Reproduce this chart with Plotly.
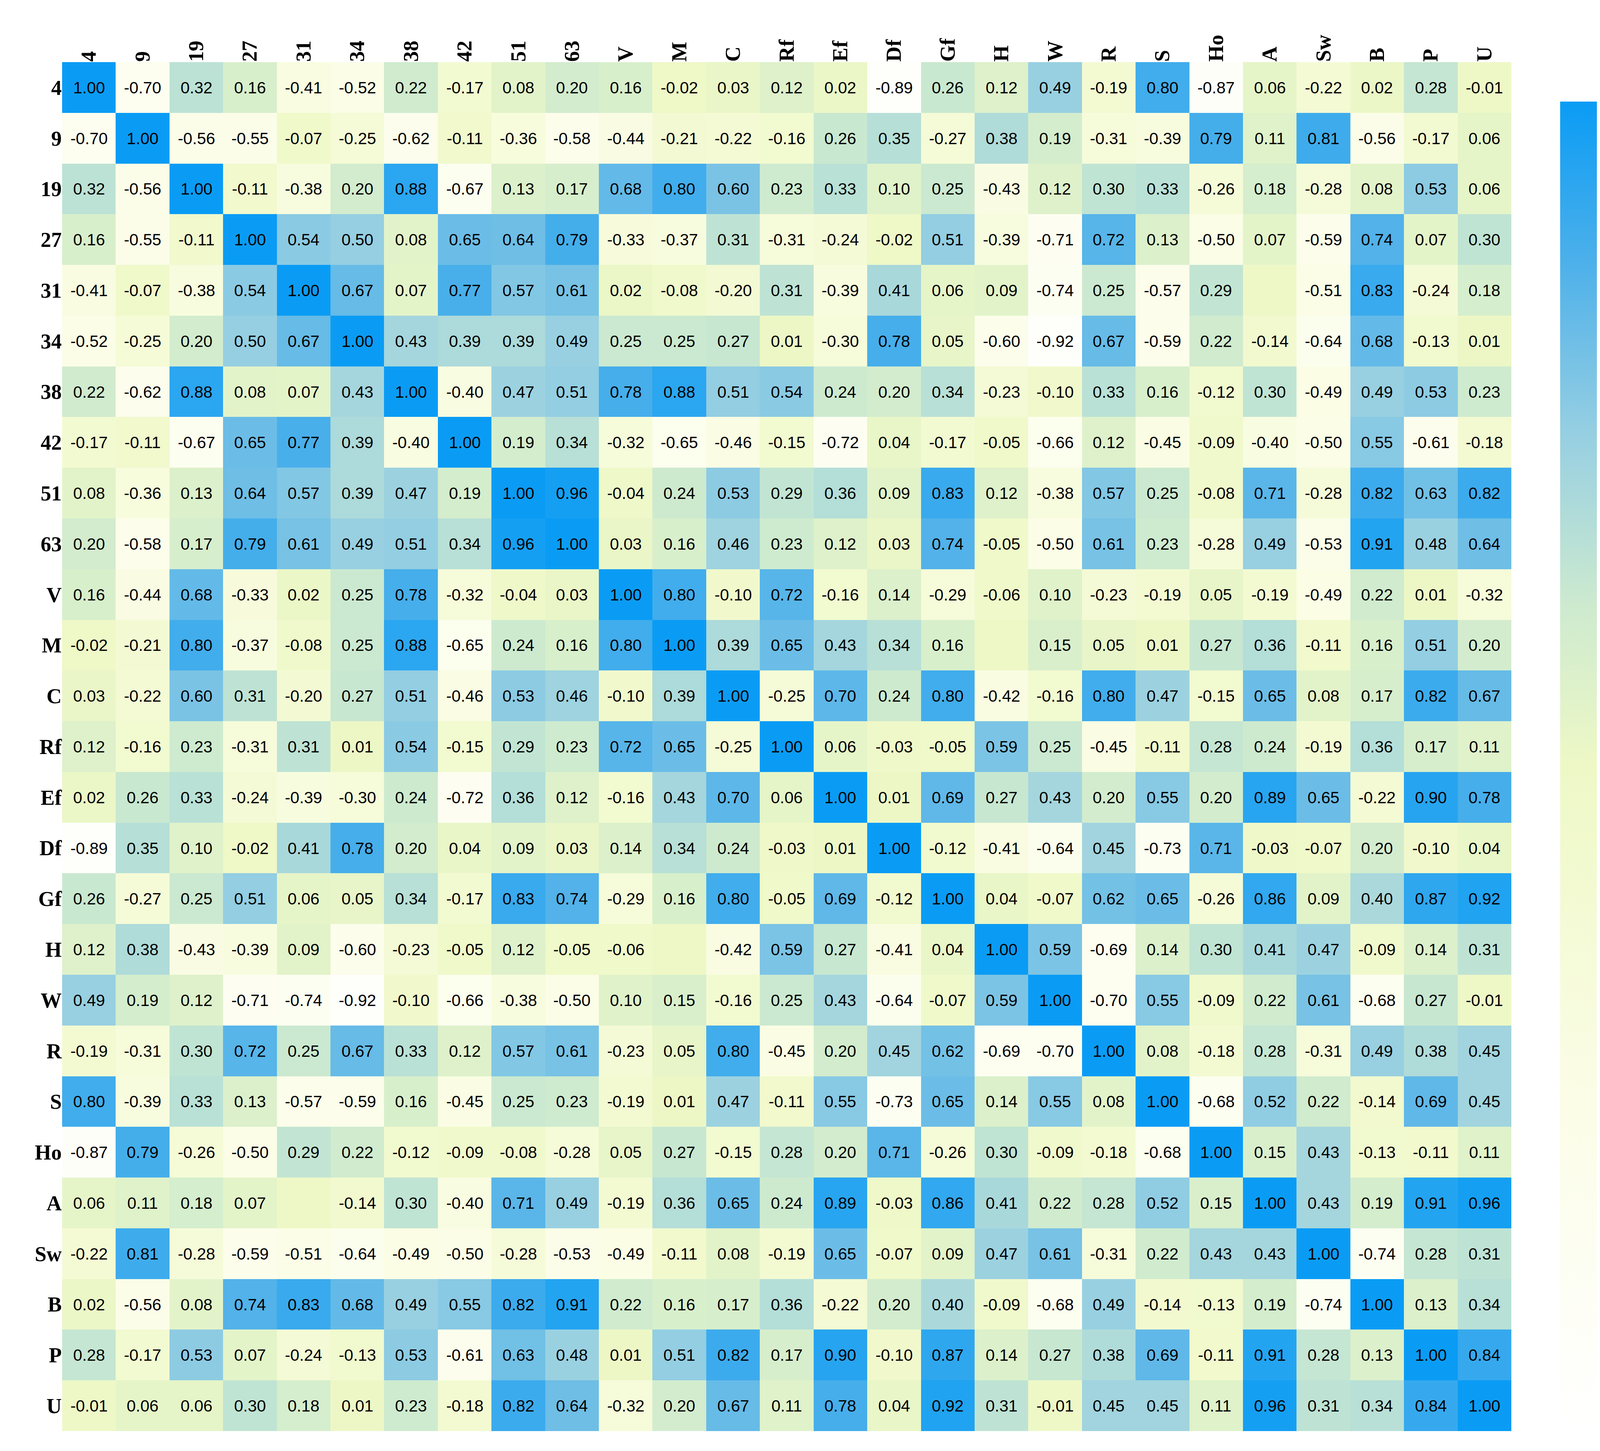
import plotly.graph_objects as go

labels = ["4","9","19","27","31","34","38","42","51","63","V","M","C","Rf","Ef","Df","Gf","H","W","R","S","Ho","A","Sw","B","P","U"]
B_ = None  # blank cell
rows = [
[1.00,-0.70,0.32,0.16,-0.41,-0.52,0.22,-0.17,0.08,0.20,0.16,-0.02,0.03,0.12,0.02,-0.89,0.26,0.12,0.49,-0.19,0.80,-0.87,0.06,-0.22,0.02,0.28,-0.01],
[-0.70,1.00,-0.56,-0.55,-0.07,-0.25,-0.62,-0.11,-0.36,-0.58,-0.44,-0.21,-0.22,-0.16,0.26,0.35,-0.27,0.38,0.19,-0.31,-0.39,0.79,0.11,0.81,-0.56,-0.17,0.06],
[0.32,-0.56,1.00,-0.11,-0.38,0.20,0.88,-0.67,0.13,0.17,0.68,0.80,0.60,0.23,0.33,0.10,0.25,-0.43,0.12,0.30,0.33,-0.26,0.18,-0.28,0.08,0.53,0.06],
[0.16,-0.55,-0.11,1.00,0.54,0.50,0.08,0.65,0.64,0.79,-0.33,-0.37,0.31,-0.31,-0.24,-0.02,0.51,-0.39,-0.71,0.72,0.13,-0.50,0.07,-0.59,0.74,0.07,0.30],
[-0.41,-0.07,-0.38,0.54,1.00,0.67,0.07,0.77,0.57,0.61,0.02,-0.08,-0.20,0.31,-0.39,0.41,0.06,0.09,-0.74,0.25,-0.57,0.29,B_,-0.51,0.83,-0.24,0.18],
[-0.52,-0.25,0.20,0.50,0.67,1.00,0.43,0.39,0.39,0.49,0.25,0.25,0.27,0.01,-0.30,0.78,0.05,-0.60,-0.92,0.67,-0.59,0.22,-0.14,-0.64,0.68,-0.13,0.01],
[0.22,-0.62,0.88,0.08,0.07,0.43,1.00,-0.40,0.47,0.51,0.78,0.88,0.51,0.54,0.24,0.20,0.34,-0.23,-0.10,0.33,0.16,-0.12,0.30,-0.49,0.49,0.53,0.23],
[-0.17,-0.11,-0.67,0.65,0.77,0.39,-0.40,1.00,0.19,0.34,-0.32,-0.65,-0.46,-0.15,-0.72,0.04,-0.17,-0.05,-0.66,0.12,-0.45,-0.09,-0.40,-0.50,0.55,-0.61,-0.18],
[0.08,-0.36,0.13,0.64,0.57,0.39,0.47,0.19,1.00,0.96,-0.04,0.24,0.53,0.29,0.36,0.09,0.83,0.12,-0.38,0.57,0.25,-0.08,0.71,-0.28,0.82,0.63,0.82],
[0.20,-0.58,0.17,0.79,0.61,0.49,0.51,0.34,0.96,1.00,0.03,0.16,0.46,0.23,0.12,0.03,0.74,-0.05,-0.50,0.61,0.23,-0.28,0.49,-0.53,0.91,0.48,0.64],
[0.16,-0.44,0.68,-0.33,0.02,0.25,0.78,-0.32,-0.04,0.03,1.00,0.80,-0.10,0.72,-0.16,0.14,-0.29,-0.06,0.10,-0.23,-0.19,0.05,-0.19,-0.49,0.22,0.01,-0.32],
[-0.02,-0.21,0.80,-0.37,-0.08,0.25,0.88,-0.65,0.24,0.16,0.80,1.00,0.39,0.65,0.43,0.34,0.16,B_,0.15,0.05,0.01,0.27,0.36,-0.11,0.16,0.51,0.20],
[0.03,-0.22,0.60,0.31,-0.20,0.27,0.51,-0.46,0.53,0.46,-0.10,0.39,1.00,-0.25,0.70,0.24,0.80,-0.42,-0.16,0.80,0.47,-0.15,0.65,0.08,0.17,0.82,0.67],
[0.12,-0.16,0.23,-0.31,0.31,0.01,0.54,-0.15,0.29,0.23,0.72,0.65,-0.25,1.00,0.06,-0.03,-0.05,0.59,0.25,-0.45,-0.11,0.28,0.24,-0.19,0.36,0.17,0.11],
[0.02,0.26,0.33,-0.24,-0.39,-0.30,0.24,-0.72,0.36,0.12,-0.16,0.43,0.70,0.06,1.00,0.01,0.69,0.27,0.43,0.20,0.55,0.20,0.89,0.65,-0.22,0.90,0.78],
[-0.89,0.35,0.10,-0.02,0.41,0.78,0.20,0.04,0.09,0.03,0.14,0.34,0.24,-0.03,0.01,1.00,-0.12,-0.41,-0.64,0.45,-0.73,0.71,-0.03,-0.07,0.20,-0.10,0.04],
[0.26,-0.27,0.25,0.51,0.06,0.05,0.34,-0.17,0.83,0.74,-0.29,0.16,0.80,-0.05,0.69,-0.12,1.00,0.04,-0.07,0.62,0.65,-0.26,0.86,0.09,0.40,0.87,0.92],
[0.12,0.38,-0.43,-0.39,0.09,-0.60,-0.23,-0.05,0.12,-0.05,-0.06,B_,-0.42,0.59,0.27,-0.41,0.04,1.00,0.59,-0.69,0.14,0.30,0.41,0.47,-0.09,0.14,0.31],
[0.49,0.19,0.12,-0.71,-0.74,-0.92,-0.10,-0.66,-0.38,-0.50,0.10,0.15,-0.16,0.25,0.43,-0.64,-0.07,0.59,1.00,-0.70,0.55,-0.09,0.22,0.61,-0.68,0.27,-0.01],
[-0.19,-0.31,0.30,0.72,0.25,0.67,0.33,0.12,0.57,0.61,-0.23,0.05,0.80,-0.45,0.20,0.45,0.62,-0.69,-0.70,1.00,0.08,-0.18,0.28,-0.31,0.49,0.38,0.45],
[0.80,-0.39,0.33,0.13,-0.57,-0.59,0.16,-0.45,0.25,0.23,-0.19,0.01,0.47,-0.11,0.55,-0.73,0.65,0.14,0.55,0.08,1.00,-0.68,0.52,0.22,-0.14,0.69,0.45],
[-0.87,0.79,-0.26,-0.50,0.29,0.22,-0.12,-0.09,-0.08,-0.28,0.05,0.27,-0.15,0.28,0.20,0.71,-0.26,0.30,-0.09,-0.18,-0.68,1.00,0.15,0.43,-0.13,-0.11,0.11],
[0.06,0.11,0.18,0.07,B_,-0.14,0.30,-0.40,0.71,0.49,-0.19,0.36,0.65,0.24,0.89,-0.03,0.86,0.41,0.22,0.28,0.52,0.15,1.00,0.43,0.19,0.91,0.96],
[-0.22,0.81,-0.28,-0.59,-0.51,-0.64,-0.49,-0.50,-0.28,-0.53,-0.49,-0.11,0.08,-0.19,0.65,-0.07,0.09,0.47,0.61,-0.31,0.22,0.43,0.43,1.00,-0.74,0.28,0.31],
[0.02,-0.56,0.08,0.74,0.83,0.68,0.49,0.55,0.82,0.91,0.22,0.16,0.17,0.36,-0.22,0.20,0.40,-0.09,-0.68,0.49,-0.14,-0.13,0.19,-0.74,1.00,0.13,0.34],
[0.28,-0.17,0.53,0.07,-0.24,-0.13,0.53,-0.61,0.63,0.48,0.01,0.51,0.82,0.17,0.90,-0.10,0.87,0.14,0.27,0.38,0.69,-0.11,0.91,0.28,0.13,1.00,0.84],
[-0.01,0.06,0.06,0.30,0.18,0.01,0.23,-0.18,0.82,0.64,-0.32,0.20,0.67,0.11,0.78,0.04,0.92,0.31,-0.01,0.45,0.45,0.11,0.96,0.31,0.34,0.84,1.00],
]
cb_vals = [1.0, 0.5, 0, -0.5, -1.0]
cb_text = ["1.0", "0.5", "0", "-0.5", "-1.0"]

z = [[0.0 if v is None else v for v in r] for r in rows]
txt = [["" if v is None else f"{v:.2f}" for v in r] for r in rows]

cscale = [[0.0, "#ffffff"], [0.25, "#fbfde6"], [0.5, "#eef8c6"], [0.62, "#cdeacf"],
          [0.75, "#96cfe2"], [0.88, "#4cb0ea"], [1.0, "#0a9cf5"]]

fig = go.Figure(go.Heatmap(
    z=z, x=labels, y=labels, text=txt, texttemplate="%{text}",
    textfont=dict(family="Liberation Sans", size=42, color="black"),
    colorscale=cscale, zmin=-1, zmax=1, xgap=0, ygap=0,
    colorbar=dict(x=1.031, xanchor="left", y=0, yanchor="bottom", len=0.974,
                  thickness=117, outlinewidth=0, tickvals=cb_vals, ticktext=cb_text,
                  ticks="outside", ticklen=8, tickcolor="white",
                  tickfont=dict(family="Liberation Serif", size=56, color="black")),
))
fig.update_layout(
    width=4272, height=3714, paper_bgcolor="white", plot_bgcolor="white",
    margin=dict(l=151, r=411, t=151, b=59),
    xaxis=dict(side="top", tickangle=-90, showgrid=False, ticks="",
               tickfont=dict(family="Liberation Serif", size=54, color="black", weight="bold")),
    yaxis=dict(autorange="reversed", showgrid=False, ticks="",
               tickfont=dict(family="Liberation Serif", size=54, color="black", weight="bold")),
)
fig.write_html("out.html")
